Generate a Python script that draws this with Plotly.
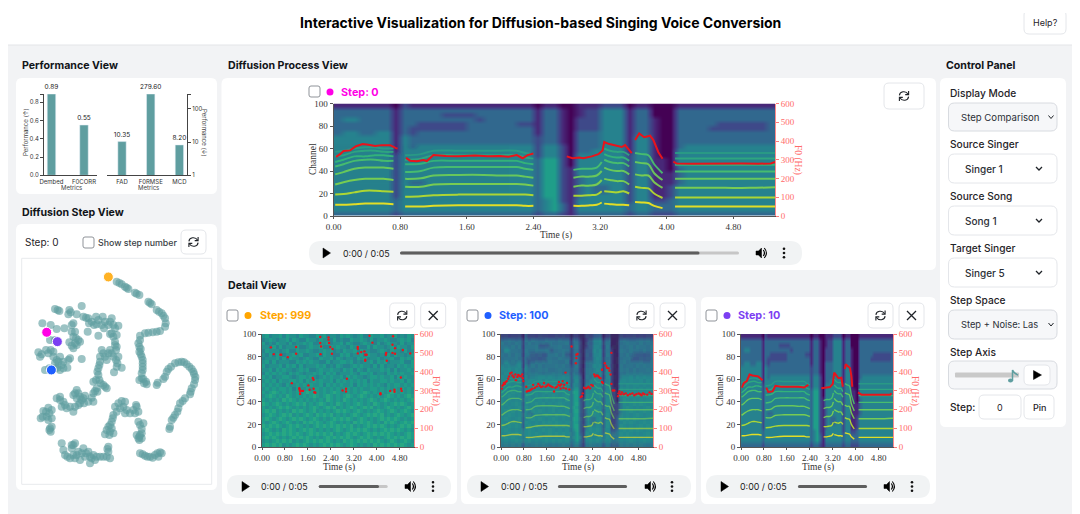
import plotly.graph_objects as go

W, H = 1080, 514
# the drawing area of the page, expressed in the 1080x514 picture's pixels
AREA_L, AREA_R, AREA_T, AREA_B = 16, 1088, 13, 517
TITLE = "Interactive Visualization for Diffusion-based Singing Voice Conversion"

# ---- performance view ----
left_metrics = ["Dembed", "F0CORR"]
left_values = [0.89, 0.55]
right_metrics = ["FAD", "F0RMSE", "MCD"]
right_values = [10.35, 279.60, 8.20]

# ---- diffusion step view (embedding coordinates) ----
tsne_x = [320,335,345,355,375,388,415,425,440,455,465,467,465,450,428,405,390,
          390,388,388,395,398,398,395,408,410,388,
          443,465,470,483,495,515,530,545,552,555,545,540,525,510,505,495,485,480,
          135,148,178,175,215,200,220,235,237,258,278,305,260,275,295,310,325,190,185,195,190,205,200,190,
          97,122,140,163,233,265,300,320,178,120,135,
          315,318,275,300,270,295,290,310,325,322,335,312,268,262,265,250,268,280,260,250,290,
          85,108,122,90,130,150,145,155,180,215,172,105,135,150,
          200,190,210,225,150,140,160,155,170,190,205,222,250,195,215,
          100,115,125,92,110,125,120,122,
          155,160,190,185,172,195,205,220,235,225,210,240,255,250,270,295,295,300,
          335,315,330,350,360,378,385,310,305,295,285,300,310,385,400,395,390,385,388,
          390,405,420,435,450,445,
          328,350,380,420,447,460,440,415,385,392,392,398,398,395,400,402,
          440,460,475,505,522,538,550,556,552,542,518,502,490,478,
          143,182,228,245,265,285,300,315,305,185,198,210,195,185,252,282,310,315,320,
          280,285,305,318,320,265,270,258,272,285,255,262,
          95,115,140,135,160,130,118,142,160,175,
          205,200,220,165,180,150,195,210,235,245,
          108,98,118,115,118,125,
          165,180,190,200,215,228,240,245,260,280,290,292,195,185,
          325,340,345,320,370,375,308,300,290,305,298,390,395,388,380,395,380,345,
          398,412,428,442,455]
tsne_y = [170,178,185,192,203,210,230,238,255,265,280,295,305,318,322,325,332,
          345,365,380,395,415,435,460,470,478,465,
          473,455,440,425,415,410,418,432,447,465,490,508,520,535,550,570,585,605,
          252,258,255,268,243,268,275,280,295,275,275,280,298,300,300,300,302,295,300,320,335,345,360,370,
          295,300,312,310,320,332,327,330,352,345,345,
          360,375,375,375,395,385,405,395,395,415,428,442,420,440,450,470,465,480,490,505,490,
          382,375,375,395,395,395,410,420,400,402,428,435,430,435,
          495,510,515,512,515,520,530,545,550,560,540,535,530,505,525,
          558,548,555,580,575,580,610,620,
          655,675,660,670,695,700,680,670,680,695,705,715,705,690,695,665,680,700,
          528,545,550,555,565,540,560,570,590,605,628,620,625,590,595,612,630,640,645,
          685,692,695,690,682,695,
          174,188,206,234,260,272,320,323,355,372,388,405,425,445,462,475,
          480,462,432,412,412,425,440,456,478,500,528,560,578,612,
          255,262,278,290,285,290,290,310,325,320,340,350,355,362,300,310,335,350,365,
          385,395,385,405,425,430,410,465,475,485,498,500,
          388,385,405,415,410,380,430,428,430,405,
          505,520,520,540,545,525,545,535,530,518,
          560,575,565,585,615,605,
          690,700,690,690,685,685,695,700,695,695,695,672,655,660,
          535,545,565,560,555,565,580,600,615,610,630,600,625,635,630,640,545,530,
          688,695,698,685,685]
step_points_x = [295, 124, 142, 110]
step_points_y = [156, 435, 350, 322]
step_names = [999, 100, 10, 0]

# ---- spectrogram background, channel 98 (top row) down to channel 2 (bottom row), 0.1 s columns ----
spec_rows = [
 "1111111 0 2 111111111111111 0 11 00 111 222 0 11 000 111111111111",
 "3333333 1 3 333333333333333 1 33 10 122 444 1 33 000 333333333333",
 "3333333 1 3 333322223333333 1 33 10 122 444 1 33 000 333333333333",
 "3443333 1 3 333333332333333 1 33 10 222 444 1 33 100 333333333333",
 "3333333 1 3 322222233333322 1 33 10 222 444 1 33 100 333332222223",
 "3333333 1 3 222222233333333 1 33 10 222 444 1 33 100 333322222223",
 "3443344 1 3 233333333333333 1 33 10 333 444 1 33 100 333333333333",
 "4444444 1 4 333333333333333 2 33 10 333 444 1 44 100 333333333333",
 "4444444 1 4 333333333333333 2 33 10 333 444 1 44 100 333333333333",
 "4444444 1 4 344444444444444 2 44 20 333 444 1 44 100 344444444444",
 "4444444 1 4 444444444444444 2 44 20 334 444 1 44 100 444444444444",
 "4444444 2 4 444444444444444 2 44 20 444 444 2 44 100 444444444444",
 "4444444 2 4 444444444444444 3 55 20 444 444 2 44 110 444444444444",
 "4444444 2 4 444444444444444 3 55 20 444 444 2 44 110 444444444444",
 "4444444 2 4 444444444444444 3 55 21 444 444 2 44 110 344444444444",
 "4444444 2 4 444444444444444 3 55 21 444 444 2 44 111 344444444444",
 "4444444 2 4 444444444444444 3 55 21 344 444 2 44 111 344444444444",
 "4444444 2 4 334444444444444 3 55 21 344 444 2 44 111 344444444444",
 "4444444 2 4 444444444444444 3 55 21 343 344 2 44 112 444444444444",
 "4444444 2 4 444444444444444 3 55 21 343 344 2 44 112 444444444444",
 "4444444 2 4 444444444444444 3 55 21 344 444 2 44 112 444444444444",
 "4444444 3 4 444444444444444 3 45 21 444 444 2 44 223 444444444444",
 "4444444 3 4 444444444444444 3 45 31 444 444 3 44 333 444444444444",
 "4444444 3 4 444444444444444 3 45 31 444 444 3 44 333 444444444444",
 "3333333 2 3 333333333333333 2 33 21 333 333 2 33 222 333333333333",
]
spec_time = [0.05,0.15,0.25,0.35,0.45,0.55,0.65,0.75,0.85,0.95,1.05,1.15,1.25,1.35,1.45,1.55,1.65,1.75,
             1.85,1.95,2.05,2.15,2.25,2.35,2.45,2.55,2.65,2.75,2.85,2.95,3.05,3.15,3.25,3.35,3.45,3.55,
             3.65,3.75,3.85,3.95,4.05,4.15,4.25,4.35,4.45,4.55,4.65,4.75,4.85,4.95,5.05,5.15,5.25]
spec_channel = [98,94,90,86,82,78,74,70,66,62,58,54,50,46,42,38,34,30,26,22,18,14,10,6,2]

# ---- pure-noise spectrogram (step 999), top row first ----
noise_rows = [
 "453445354435443354534435454345335445344534354",
 "345434453543354435443534335445435344543345453",
 "534354435344545334453445354334544353454435344",
 "443535344453345445335454435443353544345354435",
 "354443453354454334545343544535443345435443534",
 "435354344545334453544335453445354434353544345",
 "344453535443454335445354344354534453445335454",
 "453534443354545443353445545343445354534445335",
 "534445354535344454534354334545443535344354545",
 "445354544345453345445443545354354445453534454",
 "354545435454344545354534445435545344354545445",
 "545344554345545434545445354544345545445354544",
 "454535445545354545445354545454535445545445354",
 "545454354454545445354545445354545454354554545",
 "454545545354454554545454554545445545454545454",
 "545654545454565454545654454545654545456545454",
 "456545465454545654565454565456545454565454565",
 "545454656545454545465454654545456545654545456",
 "654565454565645456545465454565454654545656545",
 "545456565454545654565645456545656454565454565",
 "565645454656545645454565654565454565456545654",
 "456545656454565465656454545654565656454565456",
 "565456545656545654545656565456545456565654545",
 "545654565454656565456545454656565454656545656",
 "656565456565454565656565656454565656545456565",
 "565454656545656545454565456565654545656565454",
 "456565656565456565656454565654565656565454565",
 "565654545656565454565656565456565454565656565",
 "454565656454565656565454656565656565456545654",
 "565656454565654545656565456545454656565656545",
]

# ---- harmonic tracks by voiced segment: channel values per harmonic ----
seg1_time = [0.02,0.12,0.25,0.38,0.50,0.60,0.72]
seg1_harmonics = [[10,10,10.5,11,11,11,10.5],[19,19.5,21,22.5,22.5,22,21.5],[28,30,32,33,33,33,32],
                  [37,39,42,43,43,43,42],[44,46,49,50,50,49,49],[48,50,53,53,54,54,53],
                  [53,54,57,58,58,57,57],[57,58,60,61,61,60,60]]
seg2_time = [0.86,1.05,1.20,1.50,1.80,2.00,2.20,2.30,2.40]
seg2_harmonics = [[8.5,8.5,9,9.5,9.5,9.5,9.5,9,9],[17,17.5,18.5,19,19,19,19,19,18.5],
                  [26,26,28,28.5,28.5,28.5,28.5,28,27],[33,33.5,36,36.5,36.5,36,36,35,34],
                  [39,40,43,43.5,43.5,43.5,43.5,42,41],[46,46.5,49,49,49,49,49,47,46],
                  [50,51,54,54,54,54,54,52,51],[54,55,58,58,58,58,58,56,55]]
seg3_time = [2.88,2.98,3.08,3.16,3.22]
seg3_harmonics = [[9,9,9.5,10,12],[18,18,18.5,19,22],[26,27,27,28,32],[34,35,35,36,40],
                  [41,42,42,43,48]]
seg4_time = [3.25,3.32,3.40,3.48,3.55]
seg4_harmonics = [[11,10.5,10,10,9.5],[22,21.5,21,22,20],[33,32,31,31,28],[43,41,40,40,37],
                  [50,48,47,47,44],[55,53,52,52,49],[60,58,57,57,54]]
seg5_time = [3.62,3.70,3.78,3.85,3.95]
seg5_harmonics = [[12.5,12,11.5,9,7],[26,25,24.5,20,16],[37,36,36,30,25],[48,47,46,38,32],[56,55,54,46,38]]
seg6_time = [4.10,4.40,4.70,5.00,5.30]
seg6_harmonics = [[8.5,8.5,8.5,8.5,8.5],[16.4,16.4,16.4,16.4,16.4],[25,25,25,25,25.5],[33,33,33,33,33],
                  [39.5,39.5,39.5,39.5,39.5],[45.5,45.5,45.5,45.5,45.5],[51,51,51,51,51],[56,56,56,56,56]]
voiced_segments = [(seg1_time, seg1_harmonics), (seg2_time, seg2_harmonics), (seg3_time, seg3_harmonics),
                   (seg4_time, seg4_harmonics), (seg5_time, seg5_harmonics), (seg6_time, seg6_harmonics)]

# ---- F0 (Hz) ----
f0_main_t = [.03,.08,.12,.2,.27,.35,.42,.5,.58,.68,.75,.77,None,
             .87,.92,1.0,1.08,1.12,1.2,1.35,1.5,1.7,1.85,2.0,2.1,2.2,2.27,2.33,2.4,None,
             2.8,2.87,2.95,3.0,3.1,3.18,3.23,3.25,3.3,3.4,3.46,3.5,3.55,3.58,None,
             3.62,3.67,3.73,3.8,3.84,3.9,3.95,None,
             4.08,4.12,4.3,4.5,4.7,4.9,5.1,5.2,5.25,5.3]
f0_main_hz = [315,330,347,350,372,384,380,373,378,378,362,360,None,
              310,295,292,298,293,325,320,318,322,318,320,316,325,308,325,333,None,
              318,308,312,308,318,330,350,395,385,372,368,378,350,335,None,
              405,440,420,428,405,340,305,None,
              290,280,278,280,278,280,279,278,280,288]
f0_step10_t = [.03,.1,.2,.3,.4,.6,.75,None,.88,.95,1.1,1.2,1.4,1.7,2.0,2.2,2.35,None,
               2.8,3.1,3.2,3.25,3.4,3.5,3.55,None,3.62,3.65,3.8,3.85,3.88,None,4.08,4.2,4.6,5.2,5.25]
f0_step10_hz = [315,340,350,385,380,375,355,None,315,292,295,325,320,322,320,316,330,None,
                312,318,335,395,365,368,320,None,415,440,420,375,320,None,290,278,278,278,285]
f0_step100_t = [.03,.05,.08,.1,.13,.16,.2,.25,.28,.32,.37,.4,.45,.5,.52,.57,.6,.65,.7,.74,.76,.78,
                .88,.9,.95,1.0,1.05,1.1,1.12,1.18,1.25,1.3,1.35,1.4,1.45,1.5,1.55,1.6,1.65,1.7,1.75,1.8,1.85,1.9,1.95,
                2.0,2.02,2.05,2.08,2.1,2.15,2.18,2.2,2.25,2.27,2.3,2.38,2.46,2.63,2.63,2.67,2.61,
                2.78,2.82,2.85,2.9,2.95,3.0,3.05,3.1,3.15,3.2,3.25,3.28,3.33,3.38,3.42,3.47,3.52,3.55,3.52,
                3.62,3.67,3.7,3.75,3.78,3.82,3.85,3.85,3.9,3.95,
                4.08,4.1,4.13,4.18,4.22,4.28,4.35,4.42,4.5,4.58,4.65,4.72,4.8,4.85,4.9,4.95,5.0,5.1,5.18,5.25]
f0_step100_hz = [310,325,330,340,335,345,350,362,375,390,395,380,370,385,355,372,382,378,375,385,365,350,
                 320,295,298,300,305,310,330,315,322,335,325,318,322,340,320,325,332,325,322,318,295,315,320,
                 330,345,325,310,332,350,315,330,395,310,340,305,534,472,490,494,445,
                 265,270,285,315,310,315,320,312,330,325,385,375,380,378,370,365,410,340,345,
                 445,430,420,418,405,385,335,500,300,300,
                 270,285,295,280,290,280,285,275,280,285,275,280,285,280,275,285,280,278,290,282]
f0_step999_t = [.31,.41,.64,.67,.90,1.19,1.19,2.03,2.03,2.06,2.04,2.32,2.32,2.34,2.38,2.46,2.44,1.04,1.77,1.80,
                1.62,1.66,1.80,1.83,1.86,1.30,1.31,1.33,1.39,1.43,1.33,2.81,2.93,2.93,2.96,3.34,3.34,3.34,3.46,
                3.57,3.60,3.65,3.60,3.60,3.75,3.85,4.33,4.32,4.35,4.57,4.55,4.64,4.64,4.55,4.91,5.17,4.13,4.13,
                4.47,4.62,4.62,4.84,4.85,4.87]
f0_step999_hz = [529,493,490,490,477,531,495,584,552,534,493,582,570,552,531,520,495,339,366,357,
                 327,304,309,291,288,312,304,295,298,298,282,300,309,295,362,531,522,497,504,
                 508,490,490,463,458,591,554,499,490,458,588,543,525,495,500,515,497,286,280,
                 298,304,293,369,309,298]

time_ticks = [0.0, 0.8, 1.6, 2.4, 3.2, 4.0, 4.8]
channel_ticks = [0, 20, 40, 60, 80, 100]
f0_ticks = [0, 100, 200, 300, 400, 500, 600]

# ---- colours and helpers ----
PAGE = "#f2f3f5"; CARD = "#ffffff"; BORDER = "#e4e6ea"; TEAL = "#5f9ea0"; INK = "#1f2328"
C999, C100, C10, C0 = "#ffa500", "#1f5fff", "#7c3ff2", "#ff00e6"
SANS = "Inter"; SERIF = "Liberation Serif"
HARM = ["#f2e61e", "#b8de2d", "#7fd34e", "#6ece58", "#4ac16d", "#35b779", "#2fa87f", "#2a9c85"]

shapes, notes = [], []

def dom(a, b):
    return [(a - AREA_L) / (AREA_R - AREA_L), (b - AREA_L) / (AREA_R - AREA_L)]

def ydom(top, bottom):
    span = AREA_B - AREA_T
    return [1 - (bottom - AREA_T) / span, 1 - (top - AREA_T) / span]

def rrect(x0, y0, x1, y1, r=6, fill=CARD, line=None, lw=1):
    p = (f"M{x0+r},{y0} L{x1-r},{y0} Q{x1},{y0} {x1},{y0+r} L{x1},{y1-r} Q{x1},{y1} {x1-r},{y1} "
         f"L{x0+r},{y1} Q{x0},{y1} {x0},{y1-r} L{x0},{y0+r} Q{x0},{y0} {x0+r},{y0} Z")
    shapes.append(dict(type="path", path=p, xref="x", yref="y", fillcolor=fill, layer="below",
                       line=dict(color=line or fill, width=lw if line else 0)))

def stroke(path, color=INK, lw=1.1, fill=None):
    d = dict(type="path", path=path, xref="x", yref="y", layer="below", line=dict(color=color, width=lw))
    if fill:
        d["fillcolor"] = fill
    shapes.append(d)

def text(x, y, s, size=10.5, color=INK, anchor="left", weight=400, family=SANS, angle=0):
    notes.append(dict(x=x, y=y, xref="x", yref="y", text=s, showarrow=False, xanchor=anchor, yanchor="middle",
                      textangle=angle, borderpad=0, font=dict(size=size, color=color, family=family, weight=weight)))

def dot(x, y, r, color):
    shapes.append(dict(type="circle", xref="x", yref="y", x0=x-r, x1=x+r, y0=y-r, y1=y+r, fillcolor=color,
                       line=dict(width=0), layer="below"))

def refresh(cx, cy):
    stroke(f"M{cx-4.6},{cy-0.6} C{cx-4.2},{cy-4.6} {cx+1.6},{cy-5.8} {cx+4.2},{cy-1.8}")
    stroke(f"M{cx+4.6},{cy-5} L{cx+4.6},{cy-1.4} L{cx+1.2},{cy-1.4}")
    stroke(f"M{cx+4.6},{cy+0.6} C{cx+4.2},{cy+4.6} {cx-1.6},{cy+5.8} {cx-4.2},{cy+1.8}")
    stroke(f"M{cx-4.6},{cy+5} L{cx-4.6},{cy+1.4} L{cx-1.2},{cy+1.4}")

def close_x(cx, cy):
    stroke(f"M{cx-4.5},{cy-4.5} L{cx+4.5},{cy+4.5} M{cx+4.5},{cy-4.5} L{cx-4.5},{cy+4.5}", lw=1.3)

def chevron(cx, cy, w=3, lw=1.3):
    stroke(f"M{cx-w},{cy-1.5} L{cx},{cy+1.5} L{cx+w},{cy-1.5}", lw=lw)

def checkbox(x0, y0, x1, y1):
    rrect(x0, y0, x1, y1, r=2, line="#8f9399", lw=1)

def button(x0, y0, x1, y1):
    rrect(x0, y0, x1, y1, r=5, line=BORDER, lw=1)

def audio(x0, x1, y0, y1, play, label, t0, t1, tf, vol, dots):
    rrect(x0, y0, x1, y1, r=(y1 - y0) / 2, fill="#f1f3f4")
    ym = (y0 + y1) / 2
    stroke(f"M{play-4},{ym-5} L{play+3.5},{ym} L{play-4},{ym+5} Z", color="#000000", lw=0.5, fill="#000000")
    text(label, ym, "0:00 / 0:05", size=8.9, color="#1b1b1b")
    rrect(t0, ym - 1.5, t1, ym + 1.5, r=1.5, fill="#c6c6c6")
    rrect(t0, ym - 1.5, tf, ym + 1.5, r=1.5, fill="#5e5e5e")
    stroke(f"M{vol-5},{ym-2} L{vol-2.5},{ym-2} L{vol+0.5},{ym-5} L{vol+0.5},{ym+5} L{vol-2.5},{ym+2} L{vol-5},{ym+2} Z",
           color="#000000", lw=0.5, fill="#000000")
    stroke(f"M{vol+2.3},{ym-3} Q{vol+4.6},{ym} {vol+2.3},{ym+3}", color="#000000", lw=1.2)
    stroke(f"M{vol+3.3},{ym-5} Q{vol+7.5},{ym} {vol+3.3},{ym+5}", color="#000000", lw=1.1)
    for d in (-4.2, 0, 4.2):
        dot(dots, ym + d, 1.3, "#111111")

# ---- page furniture ----
# the header band also covers the strip above the drawing area
shapes.append(dict(type="rect", xref="paper", yref="paper", x0=-0.02, x1=1, y0=ydom(0, 45)[0], y1=1.05,
                   fillcolor="#ffffff", layer="below", line=dict(width=0)))
shapes.append(dict(type="line", xref="paper", yref="y", x0=-0.02, x1=1, y0=45, y1=45, layer="below",
                   line=dict(color="#e3e5e8", width=1)))
text(540, 22, TITLE, size=14, anchor="center", weight=700, color="#000000")
button(1024, 10, 1066, 34)
text(1045, 22, "Help?", size=9, anchor="center")

for label, x, y in [("Performance View", 21, 65), ("Diffusion Process View", 227, 65),
                    ("Diffusion Step View", 21, 212), ("Detail View", 227, 285), ("Control Panel", 945, 65)]:
    text(x, y, label, size=10.6, weight=700, color="#111418")

rrect(16, 78, 217, 194)
rrect(16, 224, 217, 490)
rrect(221.5, 78, 936, 270)
rrect(222, 297, 457, 504)
rrect(461, 297, 696, 504)
rrect(701, 297, 936, 504)
rrect(940, 78, 1066, 427)

# control panel
for label, y in [("Display Mode", 93), ("Source Singer", 144), ("Source Song", 196), ("Target Singer", 248),
                 ("Step Space", 300), ("Step Axis", 352)]:
    text(948.5, y, label, size=10.2, weight=500)
rrect(948.5, 103, 1057, 131, fill="#f6f7f9", line="#d8dbe0")
text(959.5, 117, "Step Comparison", size=9.6, color="#2b2f36")
chevron(1051, 117, w=2.5, lw=1)
for y0, y1, s in [(154, 183, "Singer 1"), (206, 235, "Song 1"), (258, 287, "Singer 5")]:
    rrect(948.5, y0, 1057, y1, line=BORDER)
    text(963.5, (y0 + y1) / 2, s, size=10, weight=500, color="#2b2f36")
    chevron(1039, (y0 + y1) / 2)
rrect(948.5, 310, 1057, 339, fill="#f6f7f9", line="#d8dbe0")
text(959.5, 324.5, "Step + Noise: Las", size=9.3, color="#2b2f36")
chevron(1051, 324.5, w=2.5, lw=1)
rrect(948.5, 361, 1057, 389, fill="#f6f7f9", line="#d8dbe0")
rrect(955, 372.5, 1019, 377.5, r=1, fill="#c9c9c9")
stroke("M1012.5,381 L1012.5,370 Q1014,373.5 1018,375", color=TEAL, lw=1.5)
shapes.append(dict(type="circle", xref="x", yref="y", x0=1008, x1=1013, y0=378.5, y1=382.5, fillcolor=TEAL,
                   line=dict(width=0), layer="below"))
button(1024, 365, 1050, 385)
stroke("M1033.5,370.5 L1041.5,375 L1033.5,379.5 Z", color="#000000", lw=0.5, fill="#000000")
text(948.5, 407, "Step:", size=10.2, weight=500)
button(979, 395, 1021, 419)
text(1000, 407, "0", size=9, anchor="center")
button(1024, 395, 1054, 419)
text(1039, 407, "Pin", size=9, anchor="center", weight=500)

# step view furniture
text(24, 242, "Step: 0", size=10)
checkbox(83, 237, 94, 248)
text(97, 242, "Show step number", size=8.8, color="#3b3f46", weight=500)
button(181, 230, 206, 254)
refresh(193.5, 242)
shapes.append(dict(type="rect", xref="x", yref="y", x0=21.7, x1=211.7, y0=258.3, y1=484.3, layer="below",
                   fillcolor="#ffffff", line=dict(color="#e8eaed", width=1)))

# main panel furniture
checkbox(309, 86, 320, 97)
dot(330, 92, 3.5, C0)
text(340, 92, "Step: 0", size=10.8, color=C0, weight=700)
button(884, 83, 924, 109)
refresh(904, 96)
audio(309, 802, 241, 265, 327, 342, 400, 739, 699.5, 761, 784)

# detail furniture
for cb, d, tx, col, name, b0, x0, pill, pl, lb, t0, t1, tf, v, ds in [
    (227, 248, 258.7, C999, "Step: 999", 389.7, 420.7, (227, 451), 246, 260, 318.7, 387.7, 379, 410, 433),
    (467, 488, 497.7, C100, "Step: 100", 629, 660, (467, 691), 485, 500, 558, 627, 627, 650, 672),
    (706, 727, 737, C10, "Step: 10", 868, 899, (706, 930), 725, 739, 798, 867, 867, 889, 912)]:
    checkbox(cb, 310, cb + 11, 321)
    dot(d, 315.5, 3.5, col)
    text(tx, 315.5, name, size=10.8, color=col, weight=700)
    button(b0, 303, b0 + 25, 328)
    refresh(b0 + 12.5, 315.5)
    button(x0, 303, x0 + 25, 328)
    close_x(x0 + 12.5, 315.5)
    audio(pill[0], pill[1], 475, 498, pl, lb, t0, t1, tf, v, ds)

# bar chart text
text(25, 132, "Performance (↑)", size=6, color="#444444", anchor="center", angle=-90)
text(205, 133, "Performance (↓)", size=6, color="#444444", anchor="center", angle=90)
text(71, 187, "Metrics", size=6, color="#444444", anchor="center")
text(148, 187, "Metrics", size=6, color="#444444", anchor="center")

fig = go.Figure()
layout = dict(
    width=W, height=H, margin=dict(l=0, r=0, t=0, b=0), paper_bgcolor=PAGE, plot_bgcolor="rgba(0,0,0,0)",
    showlegend=False, hovermode=False,
    xaxis=dict(domain=[0, 1], range=[AREA_L, AREA_R], visible=False, fixedrange=True),
    yaxis=dict(domain=[0, 1], range=[AREA_B, AREA_T], visible=False, fixedrange=True),
)
fig.add_trace(go.Scatter(x=[20], y=[20], mode="markers", marker=dict(opacity=0), xaxis="x", yaxis="y"))

# ---- bars ----
axc = "#444444"
smallfont = dict(size=6, color="#333333", family=SANS)
layout["xaxis2"] = dict(domain=dom(44, 97), anchor="y2", range=[-0.23, 1.4], type="category", showgrid=False,
                        showline=True, linecolor=axc, ticks="", tickfont=smallfont)
layout["yaxis2"] = dict(domain=ydom(94, 175.3), anchor="x2", range=[0, 0.89], showgrid=False, zeroline=False,
                        showline=True, linecolor=axc, ticks="outside", ticklen=3, tickcolor=axc,
                        tickvals=[0, .2, .4, .6, .8, .89], ticktext=["0.0", "0.2", "0.4", "0.6", "0.8", ""],
                        tickfont=smallfont)
layout["xaxis3"] = dict(domain=dom(107, 187), anchor="y3", range=[-0.523, 2.265], type="category", showgrid=False,
                        showline=True, linecolor=axc, ticks="", tickfont=smallfont)
layout["yaxis3"] = dict(domain=ydom(94, 175.3), anchor="x3", side="right", type="log", range=[0, 2.4466],
                        showgrid=False, zeroline=False, showline=True, linecolor=axc, ticks="outside", ticklen=3,
                        tickcolor=axc, tickvals=[1, 10, 100, 279.6], ticktext=["1", "10", "100", ""], tickfont=smallfont)
fig.add_trace(go.Bar(x=left_metrics, y=left_values, width=0.26, marker_color=TEAL, text=["0.89", "0.55"],
                     textposition="outside", cliponaxis=False, constraintext="none",
                     textfont=dict(size=6.5, color="#222222", family=SANS), xaxis="x2", yaxis="y2"))
fig.add_trace(go.Bar(x=right_metrics, y=right_values, width=0.29, marker_color=TEAL, text=["10.35", "279.60", "8.20"],
                     textposition="outside", cliponaxis=False, constraintext="none",
                     textfont=dict(size=6.5, color="#222222", family=SANS), xaxis="x3", yaxis="y3"))

# ---- scatter ----
layout["xaxis4"] = dict(domain=dom(21.7, 211.7), anchor="y4", range=[35, 605], visible=False)
layout["yaxis4"] = dict(domain=ydom(258.3, 484.3), anchor="x4", range=[778, 100], visible=False)
fig.add_trace(go.Scatter(x=tsne_x, y=tsne_y, mode="markers", marker=dict(size=8, color=TEAL, opacity=0.62, line=dict(width=0)),
                         xaxis="x4", yaxis="y4"))
fig.add_trace(go.Scatter(x=step_points_x, y=step_points_y, mode="markers", customdata=step_names,
                         marker=dict(size=10, color=[C999, C100, C10, C0], opacity=[0.85, 1, 1, 1],
                                     line=dict(color="#ffffff", width=1)), xaxis="x4", yaxis="y4"))

# ---- spectrograms ----
clean = ["".join(r.split()) for r in spec_rows]
spec_z = [[int(c) for c in r] for r in clean]
noise_z = [[int(c) for c in r[:45]] for r in noise_rows]
noise_t = [(i + 0.5) * 5.3 / 45 for i in range(45)]
noise_c = [100 - (i + 0.5) * 100 / 30 for i in range(30)]

def spectro_axes(n, l, r, t, b):
    xa, ya, yb = f"xaxis{n}", f"yaxis{2*n-5}", f"yaxis{2*n-4}"
    xs, ys, ysb = f"x{n}", f"y{2*n-5}", f"y{2*n-4}"
    serif = dict(size=9, color="#333333", family=SERIF)
    red = dict(size=9, color="#ff6a6a", family=SERIF)
    layout[xa] = dict(domain=dom(l, r), anchor=ys, range=[0, 5.3], tickvals=time_ticks, tickformat=".2f",
                      ticks="outside", ticklen=2, tickcolor="#555555", showline=True, linecolor="#555555",
                      showgrid=False, zeroline=False, tickfont=serif)
    layout[ya] = dict(domain=ydom(t, b), anchor=xs, range=[0, 100], tickvals=channel_ticks, ticks="outside", ticklen=3,
                      tickcolor="#555555", showline=True, linecolor="#555555", showgrid=False, zeroline=False,
                      tickfont=serif)
    layout[yb] = dict(domain=ydom(t, b), anchor=xs, overlaying=ys, side="right", range=[0, 600], tickvals=f0_ticks,
                      ticks="outside", ticklen=3, tickcolor="#ff7a7a", showline=True, linecolor="#ff8a8a",
                      showgrid=False, zeroline=False, tickfont=red)
    return xs, ys, ysb

def harmonic_traces(xs, ys, width, opacity):
    for i in range(8):
        tx, ty = [], []
        for seg_t, seg_h in voiced_segments:
            if i < len(seg_h):
                tx += seg_t + [None]
                ty += seg_h[i] + [None]
        fig.add_trace(go.Scatter(x=tx, y=ty, mode="lines", line=dict(color=HARM[i], width=width, shape="spline"),
                                 opacity=opacity, xaxis=xs, yaxis=ys))

def spectrogram(n, l, r, t, b, kind, f0_t, f0_hz):
    xs, ys, ysb = spectro_axes(n, l, r, t, b)
    if kind == "noise":
        fig.add_trace(go.Heatmap(x=noise_t, y=noise_c, z=noise_z, colorscale="Viridis", zmin=-6, zmax=14, showscale=False,
                                 zsmooth=False, xaxis=xs, yaxis=ys))
    else:
        fig.add_trace(go.Heatmap(x=spec_time, y=spec_channel, z=spec_z, colorscale="Viridis", zmin=0, zmax=9,
                                 showscale=False, zsmooth="best", xaxis=xs, yaxis=ys))
        w = 2.0 if kind == "main" else 1.4
        harmonic_traces(xs, ys, w, 0.62 if kind == "step100" else 0.92)
        if kind == "step100":
            fig.add_trace(go.Heatmap(x=noise_t, y=noise_c, z=noise_z, colorscale="Viridis", zmin=-6, zmax=14,
                                     showscale=False, zsmooth=False, opacity=0.28, xaxis=xs, yaxis=ys))
    if kind in ("noise", "step100"):
        fig.add_trace(go.Scatter(x=f0_t, y=f0_hz, mode="markers", marker=dict(size=2.4, color="#e8141c"), xaxis=xs, yaxis=ysb))
    else:
        fig.add_trace(go.Scatter(x=f0_t, y=f0_hz, mode="lines", line=dict(color="#e8141c", width=2), xaxis=xs, yaxis=ysb))

spectrogram(5, 333.5, 775, 103.5, 216, "main", f0_main_t, f0_main_hz)
spectrogram(6, 262, 414, 334, 447, "noise", f0_step999_t, f0_step999_hz)
spectrogram(7, 501, 653, 334, 447, "step100", f0_step100_t, f0_step100_hz)
spectrogram(8, 741, 893, 334, 447, "step10", f0_step10_t, f0_step10_hz)

text(313, 159, "Channel", size=9.5, color="#333333", family=SERIF, anchor="center", angle=-90)
text(798, 160, "F0 (Hz)", size=9.5, color="#ff6a6a", family=SERIF, anchor="center", angle=90)
text(556, 235, "Time (s)", size=9.5, color="#333333", family=SERIF, anchor="center")
for off in (0, 239, 479):
    text(241 + off, 390, "Channel", size=9.5, color="#333333", family=SERIF, anchor="center", angle=-90)
    text(436 + off, 391, "F0 (Hz)", size=9.5, color="#ff6a6a", family=SERIF, anchor="center", angle=90)
    text(339 + off, 467, "Time (s)", size=9.5, color="#333333", family=SERIF, anchor="center")

layout["shapes"] = shapes
layout["annotations"] = notes
fig.update_layout(**layout)
fig.write_html("out.html", config=dict(displayModeBar=False))
